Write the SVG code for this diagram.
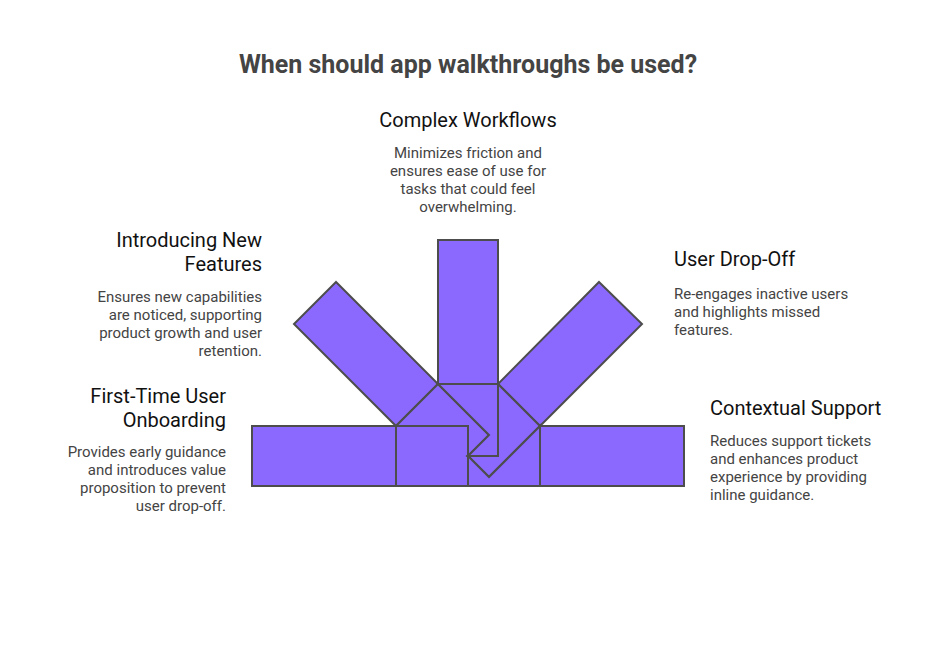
<svg xmlns="http://www.w3.org/2000/svg" width="936" height="648" viewBox="0 0 936 648">
<style>
.bar{fill:#8b69ff;stroke:#4d4d4d;stroke-width:2;stroke-linejoin:miter}
.title{font-family:Roboto,"Liberation Sans",sans-serif;font-size:25px;font-weight:bold;fill:#444444}
.h{font-family:Roboto,"Liberation Sans",sans-serif;font-size:20px;fill:#111111}
.b{font-family:Roboto,"Liberation Sans",sans-serif;font-size:15px;fill:#444444}
</style>
<rect width="936" height="648" fill="#ffffff"/>
<text class="title" x="468" y="73" text-anchor="middle">When should app walkthroughs be used?</text>
<g id="connectors"/>
<g id="onboarding">
<rect class="bar" x="252" y="426" width="144" height="60"/>
<rect class="bar" x="396" y="426" width="72" height="60"/>
<text class="h" x="226" y="403" text-anchor="end">First-Time User</text>
<text class="h" x="226" y="427" text-anchor="end">Onboarding</text>
<text class="b" text-anchor="end"><tspan x="226" y="457">Provides early guidance</tspan><tspan x="226" y="475">and introduces value</tspan><tspan x="226" y="493">proposition to prevent</tspan><tspan x="226" y="511">user drop-off.</tspan></text>
</g>
<g id="new-features">
<polygon class="bar" points="336,282 294,324 396,426 438,384"/>
<polygon class="bar" points="396,426 438,384 489,435 468,456 468,426"/>
<text class="h" x="262" y="247" text-anchor="end">Introducing New</text>
<text class="h" x="262" y="271" text-anchor="end">Features</text>
<text class="b" text-anchor="end"><tspan x="262" y="302">Ensures new capabilities</tspan><tspan x="262" y="320">are noticed, supporting</tspan><tspan x="262" y="338">product growth and user</tspan><tspan x="262" y="356">retention.</tspan></text>
</g>
<g id="complex-workflows">
<rect class="bar" x="438" y="240" width="60" height="144"/>
<polygon class="bar" points="438,384 498,384 498,456 468,456 489,435"/>
<text class="h" x="468" y="127" text-anchor="middle">Complex Workflows</text>
<text class="b" text-anchor="middle"><tspan x="468" y="158">Minimizes friction and</tspan><tspan x="468" y="176">ensures ease of use for</tspan><tspan x="468" y="194">tasks that could feel</tspan><tspan x="468" y="212">overwhelming.</tspan></text>
</g>
<g id="user-drop-off">
<polygon class="bar" points="599,282 642,324 540,426 498,384"/>
<polygon class="bar" points="498,384 540,426 489,477 468,456 498,456"/>
<text class="h" x="674" y="266">User Drop-Off</text>
<text class="b"><tspan x="674" y="299">Re-engages inactive users</tspan><tspan x="674" y="317">and highlights missed</tspan><tspan x="674" y="335">features.</tspan></text>
</g>
<g id="contextual-support">
<rect class="bar" x="540" y="426" width="144" height="60"/>
<polygon class="bar" points="468,456 489,477 540,426 540,486 468,486"/>
<text class="h" x="710" y="415">Contextual Support</text>
<text class="b"><tspan x="710" y="446">Reduces support tickets</tspan><tspan x="710" y="464">and enhances product</tspan><tspan x="710" y="482">experience by providing</tspan><tspan x="710" y="500">inline guidance.</tspan></text>
</g>
</svg>
